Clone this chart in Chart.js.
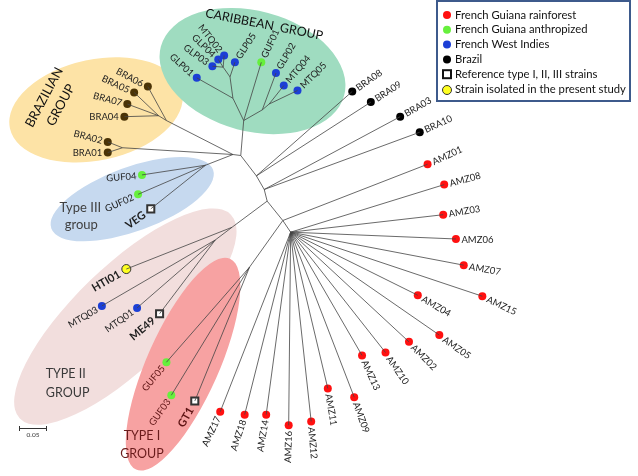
<!DOCTYPE html>
<html>
<head>
<meta charset="utf-8">
<script src="https://cdn.jsdelivr.net/npm/chart.js@4.4.1/dist/chart.umd.min.js"></script>
<style>
  html, body { margin: 0; padding: 0; background: #fff; }
  #wrap { width: 638px; height: 476px; }
</style>
</head>
<body>
<div id="wrap"><canvas id="tree" width="638" height="476"></canvas></div>
<script>
// --- internal nodes of the tree (layout coordinates) ---
const nodeNames  = ['P1','Ccar','L1','L2','L3','R1','R2','B0','BA2','BA','BB','T3','P2','P3','P4','T2','T2a','P5','T1','P6'];
const nodeX      = [239, 242, 231, 228, 221, 261, 268, 231, 163, 155, 118, 203, 255, 263, 266, 230, 213, 282, 248, 290];
const nodeY      = [153, 117,  94,  72,  62, 106, 100, 152, 117, 112, 145, 163, 174, 188, 200, 227, 240, 220, 268, 232];
const nodeParent = [null,'P1','Ccar','L1','L2','Ccar','R1','P1','B0','BA2','B0','B0','P1','P2','P3','P4','T2','P4','P5','P5'];

// --- leaves (strains) ---
const leafNames = ['GLP01','GLP03','GLP04','MTQ02','GLP05','GUF01','GLP02','MTQ04','MTQ05',
  'BRA06','BRA05','BRA07','BRA04','BRA02','BRA01',
  'GUF04','GUF02','VEG',
  'BRA08','BRA09','BRA03','BRA10',
  'AMZ01','AMZ08','AMZ03','AMZ06','AMZ07','AMZ15','AMZ04','AMZ05','AMZ02','AMZ10','AMZ13','AMZ09','AMZ11','AMZ12','AMZ16','AMZ14','AMZ18','AMZ17',
  'HTI01','MTQ03','MTQ01','ME49',
  'GUF05','GUF03','GT1'];
const leafX = [194,210,216,222,233,260,275,283,297,
  144,130,123,120,103,103,
  138,134,147,
  353,372,402,422,
  430,447,446,459,467,486,420,442,411,387,363,355,328,311,288,265,243,218,
  122,97,133,156,
  163,168,192];
const leafY = [73,61,54,50,57,57,68,81,86,
  82,88,100,113,139,150,
  173,193,208,
  87,98,113,129,
  162,183,214,239,266,298,297,338,345,356,359,402,393,427,431,420,420,417,
  270,308,310,316,
  366,400,406];
const leafParent = ['L1','L3','L3','L3','L2','Ccar','R1','R2','R2',
  'BA2','BA','BA','BA','BB','BB',
  'T3','T3','T3',
  'P2','P2','P3','P3',
  'P5','P6','P6','P6','P6','P6','P6','P6','P6','P6','P6','P6','P6','P6','P6','P6','P6','P6',
  'T2','T2a','T2a','T2a',
  'T1','T1','T1'];
// origin: rain = French Guiana rainforest, anthro = French Guiana anthropized,
// fwi = French West Indies, brazil = Brazil, brg = Brazil (Brazilian group), ref = reference, study = this study
const leafOrigin = ['fwi','fwi','fwi','fwi','fwi','anthro','fwi','fwi','fwi',
  'brg','brg','brg','brg','brg','brg',
  'anthro','anthro','ref',
  'brazil','brazil','brazil','brazil',
  'rain','rain','rain','rain','rain','rain','rain','rain','rain','rain','rain','rain','rain','rain','rain','rain','rain','rain',
  'study','fwi','fwi','ref',
  'anthro','anthro','ref'];

// label rotation (deg) and side of the dot, per leaf
const labelAngle = [42,36,44,52,-57,-65,-60,-50,-45,
  28,25,15,0,15,0,
  -5,-24,-35,
  -35,-33,-30,-25,
  -25,-15,-10,0,10,25,30,35,45,55,65,70,80,85,-88,-80,-72,-65,
  -30,-30,-35,-40,
  -50,-55,-60];
const labelSide = ['L','L','L','L','R','R','R','R','R',
  'L','L','L','L','L','L',
  'L','L','L',
  'R','R','R','R',
  'R','R','R','R','R','R','R','R','R','R','R','R','R','R','L','L','L','L',
  'L','L','L','L',
  'L','L','L'];

const legendLabels = ['French Guiana rainforest','French Guiana anthropized','French West Indies','Brazil',
  'Reference type I, II, III strains','Strain isolated in the present study'];

// --- colours ---
const originColor = {
  rain: '#ff1010', anthro: '#66f03c', fwi: '#1c3fd6', brazil: '#000000',
  brg: '#4a3306', study: '#ffff20', ref: '#ffffff'
};

// --- build edges ---
const pos = {};
nodeNames.forEach((n, i) => pos[n] = { x: nodeX[i], y: nodeY[i] });
const edgeData = [];
function addEdge(from, to) {
  edgeData.push({ x: from.x, y: from.y }, { x: to.x, y: to.y }, { x: to.x, y: null });
}
nodeNames.forEach((n, i) => { if (nodeParent[i]) addEdge(pos[nodeParent[i]], pos[n]); });
leafNames.forEach((n, i) => addEdge(pos[leafParent[i]], { x: leafX[i], y: leafY[i] }));

function leafPoints(origin) {
  const pts = [];
  leafNames.forEach((n, i) => { if (leafOrigin[i] === origin) pts.push({ x: leafX[i], y: leafY[i] }); });
  return pts;
}

const datasets = [{
  type: 'line', data: edgeData, showLine: true, spanGaps: false,
  borderColor: '#444', borderWidth: 0.8, pointRadius: 0, fill: false
}];
['rain','anthro','fwi','brazil','brg'].forEach(o => datasets.push({
  data: leafPoints(o), pointRadius: 4, pointBackgroundColor: originColor[o],
  pointBorderColor: originColor[o], pointBorderWidth: 0
}));
datasets.push({ data: leafPoints('study'), pointRadius: 4.5, pointBackgroundColor: originColor.study,
  pointBorderColor: '#333', pointBorderWidth: 1 });
datasets.push({ data: leafPoints('ref'), pointStyle: 'rect', pointRadius: 5, pointBackgroundColor: '#fff',
  pointBorderColor: '#333', pointBorderWidth: 2 });

// --- group shapes and labels ---
const groups = [
  { cx: 91,  cy: 106, rx: 90,  ry: 52, rot: -12, fill: '#fde3a6' },
  { cx: 251, cy: 66,  rx: 97,  ry: 62, rot: 15,  fill: '#9fdcc0' },
  { cx: 128, cy: 198, rx: 88,  ry: 33, rot: -20, fill: '#c6d9ef' },
  { cx: 121, cy: 319, rx: 150, ry: 52, rot: -44, fill: '#f2dedd' },
  { cx: 180, cy: 368, rx: 118, ry: 37, rot: -66, fill: '#f7a2a2' }
];
const groupTexts = [
  { t: 'BRAZILIAN', x: 38, y: 93, rot: -62, size: 13, color: '#111' },
  { t: 'GROUP', x: 55, y: 101, rot: -62, size: 13, color: '#111' },
  { t: 'CARIBBEAN  GROUP', x: 263, y: 18, rot: 11, size: 12.5, color: '#111' },
  { t: 'Type III', x: 75, y: 207, rot: 0, size: 13, color: '#404040' },
  { t: 'group', x: 76, y: 224, rot: 0, size: 13, color: '#404040' },
  { t: 'TYPE II', x: 60, y: 378, rot: 0, size: 12.5, color: '#3a3a3a' },
  { t: 'GROUP', x: 62, y: 398, rot: 0, size: 12.5, color: '#3a3a3a' },
  { t: 'TYPE I', x: 138, y: 442, rot: 0, size: 12.5, color: '#6a1c1c' },
  { t: 'GROUP', x: 138, y: 460, rot: 0, size: 12.5, color: '#6a1c1c' }
];
const FONT = 'Lato, "Open Sans", sans-serif';

const backgroundShapes = {
  id: 'backgroundShapes',
  beforeDatasetsDraw(chart) {
    const { ctx, scales: { x, y } } = chart;
    ctx.save();
    groups.forEach(g => {
      const px = x.getPixelForValue(g.cx), py = y.getPixelForValue(g.cy);
      const rx = x.getPixelForValue(g.cx + g.rx) - px;
      const ry = y.getPixelForValue(g.cy + g.ry) - py;
      ctx.beginPath();
      ctx.ellipse(px, py, Math.abs(rx), Math.abs(ry), g.rot * Math.PI / 180, 0, Math.PI * 2);
      ctx.fillStyle = g.fill;
      ctx.fill();
    });
    groupTexts.forEach(g => {
      ctx.save();
      ctx.translate(x.getPixelForValue(g.x), y.getPixelForValue(g.y));
      ctx.rotate(g.rot * Math.PI / 180);
      ctx.font = g.size + 'px ' + FONT;
      ctx.fillStyle = g.color;
      ctx.textAlign = 'center';
      ctx.textBaseline = 'middle';
      ctx.fillText(g.t, 0, 0);
      ctx.restore();
    });
    ctx.restore();
  }
};

const boldLabels = ['VEG', 'HTI01', 'ME49', 'GT1'];
const typeOne = ['GUF05', 'GUF03', 'GT1'];

const leafLabels = {
  id: 'leafLabels',
  afterDatasetsDraw(chart) {
    const { ctx, scales: { x, y } } = chart;
    ctx.save();
    leafNames.forEach((n, i) => {
      const bold = boldLabels.includes(n);
      ctx.save();
      ctx.translate(x.getPixelForValue(leafX[i]), y.getPixelForValue(leafY[i]));
      ctx.rotate(labelAngle[i] * Math.PI / 180);
      ctx.font = (bold ? 'bold 11px ' : '9.5px ') + FONT;
      ctx.fillStyle = typeOne.includes(n) ? '#5e1414' : '#1e1e1e';
      ctx.textBaseline = 'middle';
      const gap = bold ? 8 : 5.5;
      if (labelSide[i] === 'R') { ctx.textAlign = 'left'; ctx.fillText(n, gap, 0.5); }
      else { ctx.textAlign = 'right'; ctx.fillText(n, -gap, 0.5); }
      ctx.restore();
    });

    // legend box
    const lx = 437, ly = 1, lw = 193, lh = 100;
    ctx.fillStyle = '#fff';
    ctx.fillRect(lx, ly, lw, lh);
    ctx.strokeStyle = '#3d5a8c';
    ctx.lineWidth = 2;
    ctx.strokeRect(lx, ly, lw, lh);
    const markers = ['rain', 'anthro', 'fwi', 'brazil', 'ref', 'study'];
    ctx.font = '13px ' + FONT;
    const longest = ctx.measureText(legendLabels[5]).width;
    const fs = Math.min(13, 13 * 171 / longest);
    ctx.font = fs.toFixed(2) + 'px ' + FONT;
    ctx.textAlign = 'left';
    ctx.textBaseline = 'middle';
    legendLabels.forEach((t, i) => {
      const my = 15 + i * 14.8, mx = 447;
      const m = markers[i];
      ctx.beginPath();
      if (m === 'ref') {
        ctx.fillStyle = '#fff'; ctx.strokeStyle = '#111'; ctx.lineWidth = 2;
        ctx.fillRect(mx - 4, my - 4, 8, 8); ctx.strokeRect(mx - 4, my - 4, 8, 8);
      } else if (m === 'study') {
        ctx.arc(mx, my + 1, 4.5, 0, Math.PI * 2);
        ctx.fillStyle = originColor.study; ctx.fill();
        ctx.strokeStyle = '#333'; ctx.lineWidth = 1; ctx.stroke();
      } else {
        ctx.arc(mx, my, 4, 0, Math.PI * 2);
        ctx.fillStyle = originColor[m]; ctx.fill();
      }
      ctx.fillStyle = '#111';
      ctx.fillText(t, 455, my);
    });

    // scale bar
    ctx.strokeStyle = '#333'; ctx.lineWidth = 1;
    ctx.beginPath();
    ctx.moveTo(19.5, 428.5); ctx.lineTo(46.5, 428.5);
    ctx.moveTo(19.5, 426); ctx.lineTo(19.5, 431);
    ctx.moveTo(46.5, 426); ctx.lineTo(46.5, 431);
    ctx.stroke();
    ctx.font = '6.5px ' + FONT;
    ctx.fillStyle = '#333';
    ctx.textAlign = 'center';
    ctx.fillText('0.05', 33, 435);
    ctx.restore();
  }
};

new Chart(document.getElementById('tree').getContext('2d'), {
  type: 'scatter',
  data: { datasets: datasets },
  options: {
    responsive: false,
    animation: false,
    layout: { padding: 0 },
    scales: {
      x: { type: 'linear', min: 0, max: 638, display: false },
      y: { type: 'linear', min: 0, max: 476, reverse: true, display: false }
    },
    plugins: { legend: { display: false }, tooltip: { enabled: false } },
    elements: { point: { hoverRadius: 4 } }
  },
  plugins: [backgroundShapes, leafLabels]
});
</script>
</body>
</html>
